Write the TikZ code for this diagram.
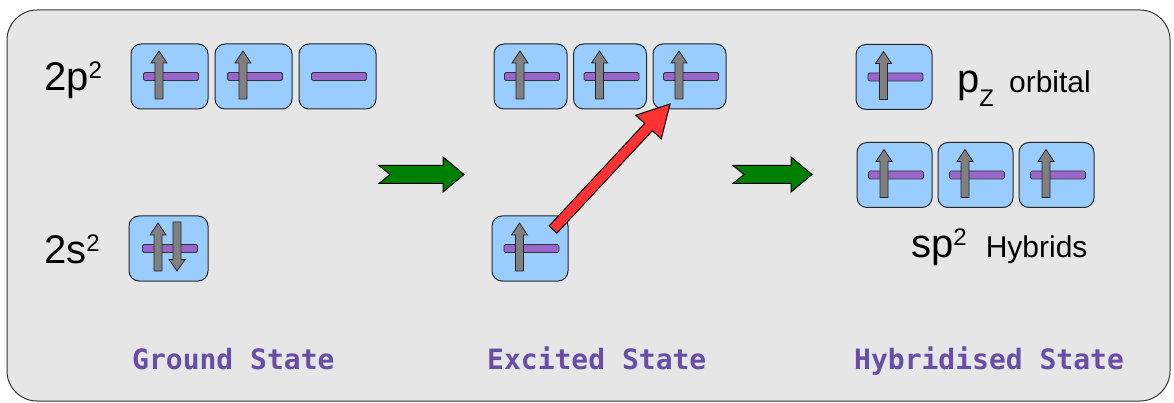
\documentclass[tikz,border=0pt]{standalone}
\usepackage{fontspec}
\setmainfont{Liberation Sans}
\setmonofont{DejaVu Sans Mono}
\usetikzlibrary{arrows.meta, positioning, calc}
\definecolor{orbblue}{HTML}{99CCFF}
\definecolor{barpurple}{HTML}{9966CC}
\definecolor{txtpurple}{HTML}{674EA7}
\definecolor{bggray}{HTML}{E6E6E6}
\definecolor{arrowgreen}{HTML}{008000}
\definecolor{arrowred}{HTML}{FF3333}
\definecolor{spingray}{HTML}{808080}

\tikzset{
    orb/.style={draw=black!85, line width=1pt, fill=orbblue, rounded corners=10pt,
        minimum width=#1, minimum height=65pt, inner sep=0pt},
    orb/.default=75pt,
    bar/.pic={\draw[draw=black!80, line width=0.8pt, fill=barpurple, rounded corners=1.5pt]
        (-26,-4) rectangle (29,4);},
    spinup/.pic={\draw[draw=black!85, line width=0.8pt, fill=spingray]
        (-4,22.5) -- (-4,-13.5) -- (-8,-13.5) -- (0,-25.5) -- (8,-13.5) -- (4,-13.5) -- (4,22.5) -- cycle;},
    spindown/.pic={\draw[draw=black!85, line width=0.8pt, fill=spingray]
        (-4,-26.5) -- (-4,11) -- (-8,11) -- (0,22.5) -- (8,11) -- (4,11) -- (4,-26.5) -- cycle;},
    fatarrow/.pic={\draw[draw=black, line width=1pt, fill=arrowgreen]
        (0,-9) -- ({#1-21},-9) -- ({#1-21},-17.5) -- (#1,0) -- ({#1-21},17.5) -- ({#1-21},9) -- (0,9) -- (11,0) -- cycle;},
    big/.style={font=\fontsize{40}{40}\selectfont, inner sep=0pt, anchor=base west},
    state/.style={font=\fontsize{28}{28}\selectfont\ttfamily\bfseries, text=txtpurple,
        inner sep=0pt, anchor=base west},
    redarrow/.style={draw=black, line width=1pt, fill=arrowred},
}
\newcommand\supsize{\fontsize{24}{24}\selectfont}
\newcommand\notesize{\fontsize{30}{30}\selectfont}

\begin{document}
\begin{tikzpicture}[x=1pt, y=-1pt]
    % 画布与背景框
    \useasboundingbox (0,0) rectangle (1174,403);
    \draw[draw=black!80, line width=1pt, fill=bggray, rounded corners=30pt] (7,10) rectangle (1170,401);

    % 基态
    \node[orb=77pt] (g2p1) at (169.5,76.5) {};
    \node[orb=77pt, right=6pt of g2p1] (g2p2) {};
    \node[orb=77pt, right=6pt of g2p2] (g2p3) {};
    \node[orb=79pt] (g2s) at (168.5,248.5) {};
    \node[big] (lgp) at (44,91) {2p\raisebox{12pt}{\supsize 2}};
    \node[big] (lgs) at (44,263) {2s\raisebox{12pt}{\supsize 2}};

    % 激发态
    \node[orb=73pt] (e2p1) at (530.5,76.5) {};
    \node[orb=73pt, right=5.5pt of e2p1] (e2p2) {};
    \node[orb=73pt, right=5.5pt of e2p2] (e2p3) {};
    \node[orb=76pt] (e2s) at (530,248.5) {};

    % 杂化态
    \node[orb=76pt] (hpz) at (894,77) {};
    \node[orb] (hsp1) at (894.5,175) {};
    \node[orb, right=5pt of hsp1] (hsp2) {};
    \node[orb, right=5pt of hsp2] (hsp3) {};
    \node[big] (lpz) at (957,93) {p\raisebox{-14pt}{\supsize Z}\hspace{15pt}{\notesize orbital}};
    \node[big] (lsp) at (911,258) {sp\raisebox{12pt}{\supsize 2}\hspace{19pt}{\notesize Hybrids}};

    % 能级横线
    \foreach \o in {g2p1, g2p2, g2p3, g2s, e2p1, e2p2, e2p3, e2s, hpz, hsp1, hsp2, hsp3}
        \pic at (\o.center) {bar};

    % 电子自旋
    \foreach \o in {g2p1, g2p2, g2s, e2p1, e2p2, e2p3, e2s, hpz, hsp1, hsp2, hsp3}
        \pic at ([xshift=-10.5pt]\o.center) {spinup};
    \pic at ([xshift=8.5pt]g2s.center) {spindown};

    % 状态间的箭头
    \coordinate (ga1) at (379,174.5);
    \coordinate (ga2) at (733,174.5);
    \pic at (ga1) {fatarrow=85};
    \pic at (ga2) {fatarrow=79};

    % 2s 电子跃迁到 2p
    \coordinate (rtail) at ([shift={(23,-19)}]e2s.center);
    \coordinate (rtip) at ([shift={(-19.5,27.5)}]e2p3.center);
    \coordinate (rbase) at ($(rtip)!31.5pt!(rtail)$);
    \draw[redarrow] ($(rtail)!5.3pt!90:(rtip)$) -- ($(rbase)!5.3pt!90:(rtip)$)
        -- ($(rbase)!17.4pt!90:(rtip)$) -- (rtip) -- ($(rbase)!17.4pt!-90:(rtip)$)
        -- ($(rbase)!5.3pt!-90:(rtip)$) -- ($(rtail)!5.3pt!-90:(rtip)$) -- cycle;

    % 状态名称
    \node[state] (tground) at (132,369) {Ground State};
    \node[state] (texcited) at (487,369) {Excited State};
    \node[state] (thybrid) at (854,369) {Hybridised State};
\end{tikzpicture}
\end{document}
